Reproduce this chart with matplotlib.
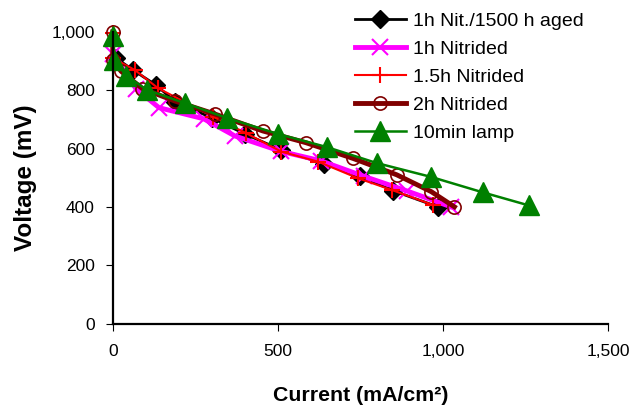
import matplotlib.pyplot as plt
from matplotlib.ticker import StrMethodFormatter

plt.rcParams['font.family'] = ['Liberation Sans', 'DejaVu Sans']

# 1h Nit./1500 h aged
x_aged = [10, 60, 130, 190, 300, 400, 510, 640, 750, 850, 985]
y_aged = [910, 870, 818, 760, 705, 650, 595, 548, 505, 455, 400]

# 1h Nitrided
x_1h = [0, 70, 140, 275, 370, 510, 630, 760, 890, 1025]
y_1h = [925, 805, 740, 702, 643, 590, 558, 505, 455, 400]

# 1.5h Nitrided
x_15h = [0, 0, 67, 137, 304, 405, 511, 622, 743, 845, 971]
y_15h = [995, 910, 869, 807, 709, 652, 589, 555, 498, 458, 406]

# 2h Nitrided
x_2h = [0, 0, 25, 90, 190, 310, 455, 585, 728, 860, 965, 1035]
y_2h = [1000, 905, 865, 805, 762, 718, 660, 620, 566, 510, 452, 400]

# 10min lamp
x_lamp = [0, 5, 40, 105, 220, 345, 500, 648, 800, 963, 1120, 1260]
y_lamp = [985, 905, 850, 800, 755, 705, 650, 605, 550, 503, 450, 405]

fig = plt.figure(figsize=(6.3, 4.08), dpi=100)
ax = fig.add_axes([0.179, 0.207, 0.786, 0.715])

ax.plot(x_aged, y_aged, color='black', lw=2, marker='D', ms=9,
        mfc='black', mec='black', label='1h Nit./1500 h aged', clip_on=False)
ax.plot(x_1h, y_1h, color='#ff00ff', lw=3.5, marker='x', ms=11, mew=1.5,
        label='1h Nitrided', clip_on=False)
ax.plot(x_15h, y_15h, color='#ff0000', lw=1.5, marker='+', ms=12, mew=1.5,
        label='1.5h Nitrided', clip_on=False)
ax.plot(x_2h, y_2h, color='#800000', lw=3.5, marker='o', ms=9.5, mew=1.2,
        mfc='none', mec='#800000', label='2h Nitrided', clip_on=False)
ax.plot(x_lamp, y_lamp, color='#008000', lw=1.8, marker='^', ms=14,
        mfc='#008000', mec='#008000', label='10min lamp', clip_on=False)

ax.set_xlim(0, 1500)
ax.set_ylim(0, 1000)
ax.set_xticks([0, 500, 1000, 1500])
ax.set_yticks([0, 200, 400, 600, 800, 1000])
ax.xaxis.set_major_formatter(StrMethodFormatter('{x:,.0f}'))
ax.yaxis.set_major_formatter(StrMethodFormatter('{x:,.0f}'))

for s in ['top', 'right']:
    ax.spines[s].set_visible(False)
for s in ['left', 'bottom']:
    ax.spines[s].set_linewidth(1.6)

ax.tick_params(axis='both', direction='out', length=5, width=0.8, labelsize=12.5)
ax.tick_params(axis='y', pad=8)
ax.tick_params(axis='x', pad=10)

ax.set_xlabel('Current (mA/cm²)', fontsize=15.3, fontweight='bold', labelpad=19)
ax.set_ylabel('Voltage (mV)', fontsize=17.5, fontweight='bold', labelpad=10)

ax.legend(loc='upper left', bbox_to_anchor=(0.5635, 0.97), bbox_transform=fig.transFigure,
          frameon=False, fontsize=14, handlelength=2.6, labelspacing=0.54,
          handletextpad=0.4, borderpad=0, borderaxespad=0)

fig.savefig('out.png', dpi=100)
